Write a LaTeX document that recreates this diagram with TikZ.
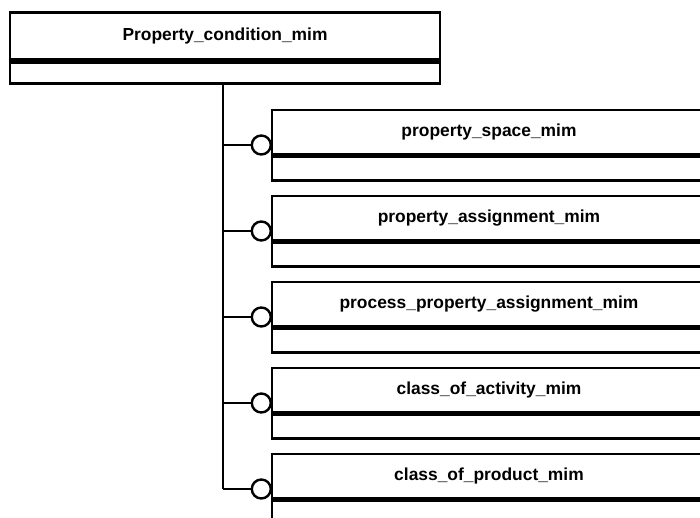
\documentclass[tikz,border=0pt]{standalone}
\usepackage{fontspec}
\setmainfont{Liberation Sans}
\begin{document}
\begin{tikzpicture}[x=1pt,y=-1pt,
  upper/.style={draw, line width=2.8pt, minimum width=#1, minimum height=44pt, inner sep=0pt,
    font=\fontsize{17.4}{19}\selectfont\bfseries},
  lower/.style={draw, line width=2.8pt, minimum width=#1, minimum height=24pt, inner sep=0pt, anchor=north},
  divider/.style={line width=3.8pt},
  conn/.style={line width=2pt},
  ring/.style={circle, draw, line width=2.4pt, fill=white, minimum size=19pt, inner sep=0pt}]
\useasboundingbox (0,0) rectangle (700,518);
\clip (0,0) rectangle (700,518);
% top entity
\node[upper=430pt, minimum height=47pt] (top) at (225,36) {Property\_condition\_mim};
\node[lower=430pt, minimum height=21pt] (topb) at (top.south) {};
\draw[divider] (top.south west) -- (top.south east);
% child entities
\foreach \i/\t/\name in {0/110/property\_space\_mim,
                          1/196/property\_assignment\_mim,
                          2/282/process\_property\_assignment\_mim,
                          3/368/class\_of\_activity\_mim,
                          4/454/class\_of\_product\_mim}{
  \node[upper=434pt] (e\i) at (489,\t+22) {\name};
  \node[lower=434pt] (e\i b) at (e\i.south) {};
  \draw[divider] (e\i.south west) -- (e\i.south east);
  \node[ring, anchor=east] (c\i) at (272,\t+35) {};
}
\coordinate (j) at (223,489);
\draw[conn] (topb.south -| j) -- (j);
\foreach \i in {0,...,4}{
  \draw[conn] (c\i.west -| j) -- (c\i.west);
}
\end{tikzpicture}
\end{document}
